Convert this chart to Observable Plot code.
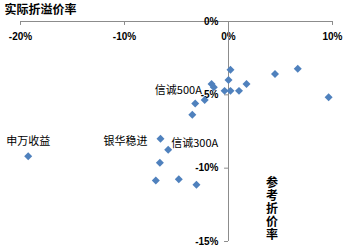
<!DOCTYPE html>
<html>
<head>
<meta charset="utf-8">
<script src="https://cdn.jsdelivr.net/npm/d3@7"></script>
<script src="https://cdn.jsdelivr.net/npm/@observablehq/plot@0.6"></script>
<style>
body { margin: 0; background: #fff; }
</style>
</head>
<body>
<div id="chart"></div>
<script>
// 参考折价率 (x, %) and 实际折溢价率 (y, %)
const refRate = [0.19, 0.0, -1.63, -1.41, 1.73, -0.38, 0.19, 1.01, 4.47, 6.66, 9.63, -2.29, -3.2, -3.48, -6.54, -5.8, -6.6, -6.99, -4.78, -3.08, -19.26];
const actualRate = [-3.29, -3.99, -4.26, -4.48, -4.26, -4.73, -4.73, -4.73, -3.58, -3.22, -5.17, -5.35, -5.59, -6.36, -8.0, -8.75, -9.63, -10.84, -10.75, -11.13, -9.18];
const fundNames = ["", "", "", "信诚500A", "", "", "", "", "", "", "", "", "", "", "银华稳进", "信诚300A", "", "", "", "", "申万收益"];
const xTicks = [-20, -10, 0, 10];
const yTicks = [0, -5, -10, -15];
const xTitle = "参考折价率";
const yTitle = "实际折溢价率";

const points = refRate.map((x, i) => ({x, y: actualRate[i], name: fundNames[i]}));
const fmt = d => d + "%";
const blue = "#4f81bd";
const gray = "#8c8c8c";
const tickFont = "'Liberation Sans', Arial, sans-serif";
const cjk = "'Noto Sans CJK SC', sans-serif";

const labelStyles = {
  "信诚500A": {textAnchor: "end", dx: -12, dy: 3},
  "银华稳进": {textAnchor: "end", dx: -13, dy: 3},
  "信诚300A": {textAnchor: "start", dx: 3, dy: -6},
  "申万收益": {textAnchor: "middle", dx: 0, dy: -15}
};

const labelMarks = Object.entries(labelStyles).map(([name, s]) =>
  Plot.text(points.filter(d => d.name === name), {
    x: "x", y: "y", text: "name", ...s,
    fontSize: 11, fontFamily: cjk, fill: "#000", lineAnchor: "middle"
  })
);

const chart = Plot.plot({
  width: 352,
  height: 250,
  marginLeft: 20,
  marginRight: 20,
  marginTop: 21,
  marginBottom: 9,
  x: {type: "linear", domain: [-20, 10], axis: null},
  y: {type: "linear", domain: [-15, 0], axis: null},
  style: {background: "#fff", overflow: "visible"},
  marks: [
    // x axis line at y = 0 with downward ticks
    Plot.ruleY([0], {x1: -20, x2: 10, stroke: gray, strokeWidth: 1}),
    Plot.ruleX(xTicks, {x: d => d, y1: 0, y2: -0.27, stroke: gray}),
    Plot.text(xTicks, {x: d => d, y: 0, text: fmt, dy: 15, fontSize: 10, fontWeight: "bold", fontFamily: tickFont, fill: "#000"}),
    // y axis line at x = 0 with left ticks
    Plot.ruleX([0], {y1: -15, y2: 0, stroke: gray, strokeWidth: 1}),
    Plot.ruleY(yTicks.filter(d => d !== 0), {y: d => d, x1: -0.38, x2: 0, stroke: gray}),
    Plot.text(yTicks, {x: 0, y: d => d, text: fmt, dx: -10, textAnchor: "end", fontSize: 10, fontWeight: "bold", fontFamily: tickFont, fill: "#000"}),
    // points
    Plot.dot(points, {x: "x", y: "y", symbol: "diamond2", r: 3.6, fill: blue, stroke: "none"}),
    ...labelMarks,
    // titles
    Plot.text([yTitle], {frameAnchor: "top-left", dx: -16, dy: -11, textAnchor: "start", lineAnchor: "middle", fontSize: 12, fontWeight: "bold", fontFamily: cjk, fill: "#000"}),
    Plot.text([xTitle], {frameAnchor: "top", dx: 95.5, dy: 146, textAnchor: "start", fontSize: 12, fontWeight: "bold", fontFamily: cjk, fill: "#000"})
  ]
});
// render the x-axis title vertically (top-to-bottom), as in the reference
d3.select(chart).selectAll("text")
  .filter(function() { return this.textContent === xTitle; })
  .attr("dy", null)
  .style("writing-mode", "vertical-rl")
  .style("letter-spacing", "1px");
document.getElementById("chart").appendChild(chart);
</script>
</body>
</html>
